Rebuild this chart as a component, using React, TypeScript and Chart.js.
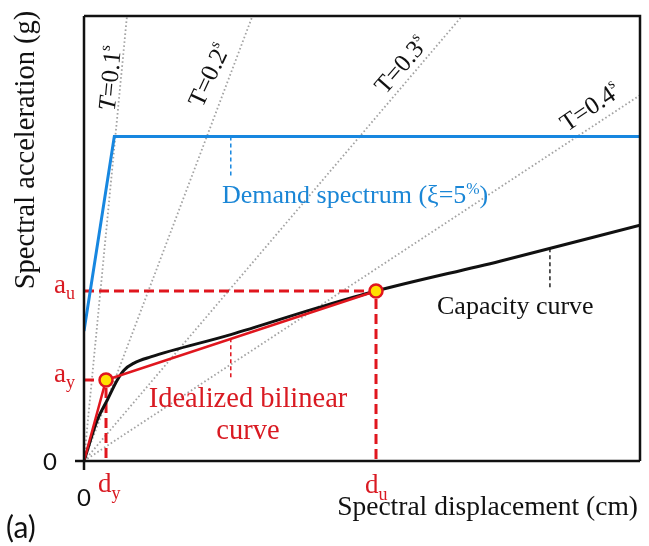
import React, { useEffect, useRef } from "react";
import { Chart, registerables } from "chart.js";

Chart.register(...registerables);

// ---- data (normalised units: 0..100 on both axes) ----
const demandX = [0, 5.45, 100];
const demandY = [29.2, 72.9, 72.9];

const capacityX = [0, 2.39, 4.19, 5.99, 7.19, 8.99, 12.0, 26.4, 41.96, 52.52, 74.8, 100];
const capacityY = [0, 9.2, 13.7, 18.2, 20.4, 22.0, 23.4, 28.4, 34.4, 38.2, 44.9, 53.0];

const bilinearX = [0, 3.96, 52.52];
const bilinearY = [0, 18.2, 38.2];

const periodLabels = ["0.1", "0.2", "0.3", "0.4"];
const periodEndX = [7.73, 30.3, 68.0, 100];
const periodEndY = [100, 100, 100, 82.2];

const yieldDisp = 3.96;
const yieldAcc = 18.2;
const ultDisp = 52.52;
const ultAcc = 38.2;

// pointer ticks for the annotations [x, yTop, yBottom]
const demandTick = [26.4, 72.9, 64.0];
const capacityTick = [83.8, 47.8, 38.9];
const bilinearTick = [26.4, 27.6, 18.2];

const BLUE = "#1787e0";
const BLUE_TXT = "#1a86d6";
const RED = "#e0161e";
const RED_TXT = "#d91a22";
const SERIF = "'Liberation Serif', 'Times New Roman', serif";
const SANS = "Lato, 'Open Sans', sans-serif";

const pts = (xs: number[], ys: number[]) => xs.map((x, i) => ({ x, y: ys[i] }));

type Part = { t: string; size: number; dy?: number; style?: string; family?: string };

function drawParts(ctx: CanvasRenderingContext2D, parts: Part[], x: number, y: number, align: "left" | "center" | "right", color: string) {
  ctx.save();
  ctx.fillStyle = color;
  ctx.textBaseline = "alphabetic";
  ctx.textAlign = "left";
  const fontOf = (p: Part) => `${p.style || ""} ${p.size}px ${p.family || SERIF}`;
  let total = 0;
  for (const p of parts) {
    ctx.font = fontOf(p);
    total += ctx.measureText(p.t).width;
  }
  let cx = align === "left" ? x : align === "center" ? x - total / 2 : x - total;
  for (const p of parts) {
    ctx.font = fontOf(p);
    ctx.fillText(p.t, cx, y + (p.dy || 0));
    cx += ctx.measureText(p.t).width;
  }
  ctx.restore();
}

const overlayPlugin = {
  id: "overlay",
  afterDatasetsDraw(chart: any) {
    const ctx: CanvasRenderingContext2D = chart.ctx;
    const { left, right, top, bottom } = chart.chartArea;
    const xs = chart.scales.x;
    const ys = chart.scales.y;

    // frame
    ctx.save();
    ctx.strokeStyle = "#111";
    ctx.lineWidth = 2.5;
    ctx.beginPath();
    ctx.moveTo(left, top);
    ctx.lineTo(right, top);
    ctx.lineTo(right, bottom);
    ctx.moveTo(left - 9, bottom);
    ctx.lineTo(right, bottom);
    ctx.moveTo(left, top);
    ctx.lineTo(left, bottom + 9);
    ctx.stroke();
    ctx.restore();

    // period labels
    const tl = [
      { cx: 110, cy: 78, a: -84.5, italic: true },
      { cx: 209, cy: 75, a: -65, italic: false },
      { cx: 401, cy: 65, a: -49, italic: false },
      { cx: 590, cy: 107, a: -34, italic: false },
    ];
    tl.forEach((p, i) => {
      ctx.save();
      ctx.translate(p.cx, p.cy);
      ctx.rotate((p.a * Math.PI) / 180);
      drawParts(
        ctx,
        [
          { t: "T", size: 25, style: p.italic ? "italic" : "" },
          { t: "=" + periodLabels[i], size: 25 },
          { t: "s", size: 15, dy: -11 },
        ],
        0,
        8,
        "center",
        "#111"
      );
      ctx.restore();
    });

    // annotations
    drawParts(
      ctx,
      [
        { t: "Demand spectrum (\u03BE=5", size: 26 },
        { t: "%", size: 16, dy: -9 },
        { t: ")", size: 26 },
      ],
      222,
      203,
      "left",
      BLUE_TXT
    );
    drawParts(ctx, [{ t: "Capacity curve", size: 26 }], 437, 314, "left", "#111");
    drawParts(ctx, [{ t: "Idealized bilinear", size: 28.5 }], 248, 407, "center", RED_TXT);
    drawParts(ctx, [{ t: "curve", size: 28.5 }], 248, 439, "center", RED_TXT);

    // red point labels
    const auY = ys.getPixelForValue(ultAcc);
    const ayY = ys.getPixelForValue(yieldAcc);
    const dyX = xs.getPixelForValue(yieldDisp);
    const duX = xs.getPixelForValue(ultDisp);
    drawParts(ctx, [{ t: "a", size: 27 }, { t: "u", size: 18, dy: 6 }], 54, auY + 2, "left", RED_TXT);
    drawParts(ctx, [{ t: "a", size: 27 }, { t: "y", size: 18, dy: 6 }], 54, ayY + 2, "left", RED_TXT);
    drawParts(ctx, [{ t: "d", size: 27 }, { t: "y", size: 18, dy: 7 }], dyX - 8, bottom + 31, "left", RED_TXT);
    drawParts(ctx, [{ t: "d", size: 27 }, { t: "u", size: 18, dy: 7 }], duX - 11, bottom + 32, "left", RED_TXT);

    // zeros
    ctx.save();
    ctx.fillStyle = "#111";
    ctx.font = `24px ${SANS}`;
    ctx.textAlign = "center";
    ctx.textBaseline = "middle";
    ctx.fillText("0", 50, ys.getPixelForValue(0) + 1);
    ctx.fillText("0", xs.getPixelForValue(0), bottom + 37);
    ctx.font = `30px ${SANS}`;
    ctx.textAlign = "left";
    ctx.fillText("(a)", 6, 528);
    ctx.restore();

    // axis titles
    drawParts(ctx, [{ t: "Spectral displacement (cm)", size: 27.5 }], 638, 515, "right", "#111");
    ctx.save();
    ctx.translate(34, 150);
    ctx.rotate(-Math.PI / 2);
    drawParts(ctx, [{ t: "Spectral acceleration (g)", size: 28.5 }], 0, 0, "center", "#111");
    ctx.restore();
  },
};

export default function App() {
  const ref = useRef<HTMLCanvasElement | null>(null);
  useEffect(() => {
    document.body.style.margin = "0";
    const canvas = ref.current;
    if (!canvas) return;

    const periodSets = periodEndX.map((ex, i) => ({
      label: "T=" + periodLabels[i],
      data: [
        { x: 0, y: 0 },
        { x: ex, y: periodEndY[i] },
      ],
      borderColor: "#a3a3a3",
      borderWidth: 1.8,
      borderDash: [1.6, 2.4],
      pointRadius: 0,
      order: 10,
    }));

    const tick = (t: number[], color: string, width: number) => ({
      data: [
        { x: t[0], y: t[1] },
        { x: t[0], y: t[2] },
      ],
      borderColor: color,
      borderWidth: width,
      borderDash: [4, 3],
      pointRadius: 0,
      order: 9,
    });

    const chart = new Chart(canvas, {
      type: "line",
      data: {
        datasets: [
          ...periodSets,
          tick(demandTick, BLUE, 1.5),
          tick(capacityTick, "#222", 1.5),
          tick(bilinearTick, RED, 1.5),
          {
            label: "au guide",
            data: [
              { x: 0, y: ultAcc },
              { x: ultDisp, y: ultAcc },
              { x: ultDisp, y: 0 },
            ],
            borderColor: RED,
            borderWidth: 3,
            borderDash: [10, 5],
            pointRadius: 0,
            order: 8,
          },
          {
            label: "ay guide",
            data: [
              { x: 0, y: yieldAcc },
              { x: yieldDisp, y: yieldAcc },
              { x: yieldDisp, y: 0 },
            ],
            borderColor: RED,
            borderWidth: 3,
            borderDash: [10, 5],
            pointRadius: 0,
            order: 8,
          },
          {
            label: "Capacity curve",
            data: pts(capacityX, capacityY),
            borderColor: "#111",
            borderWidth: 3,
            cubicInterpolationMode: "monotone",
            pointRadius: 0,
            order: 6,
          },
          {
            label: "Idealized bilinear curve",
            data: pts(bilinearX, bilinearY),
            borderColor: RED,
            borderWidth: 2.5,
            pointRadius: 0,
            order: 5,
          },
          {
            label: "Demand spectrum",
            data: pts(demandX, demandY),
            borderColor: BLUE,
            borderWidth: 3,
            pointRadius: 0,
            order: 4,
          },
          {
            label: "points",
            data: [
              { x: yieldDisp, y: yieldAcc },
              { x: ultDisp, y: ultAcc },
            ],
            showLine: false,
            pointRadius: 6.5,
            pointBackgroundColor: "#ffe000",
            pointBorderColor: RED,
            pointBorderWidth: 2.5,
            order: 1,
          },
        ] as any,
      },
      options: {
        responsive: false,
        animation: false,
        layout: { padding: { left: 84, top: 16, right: 9, bottom: 85 } },
        plugins: { legend: { display: false }, tooltip: { enabled: false } },
        scales: {
          x: { type: "linear", min: 0, max: 100, display: false },
          y: { type: "linear", min: 0, max: 100, display: false },
        },
      } as any,
      plugins: [overlayPlugin],
    });
    return () => chart.destroy();
  }, []);

  return <canvas ref={ref} width={649} height={546} style={{ display: "block" }} />;
}
